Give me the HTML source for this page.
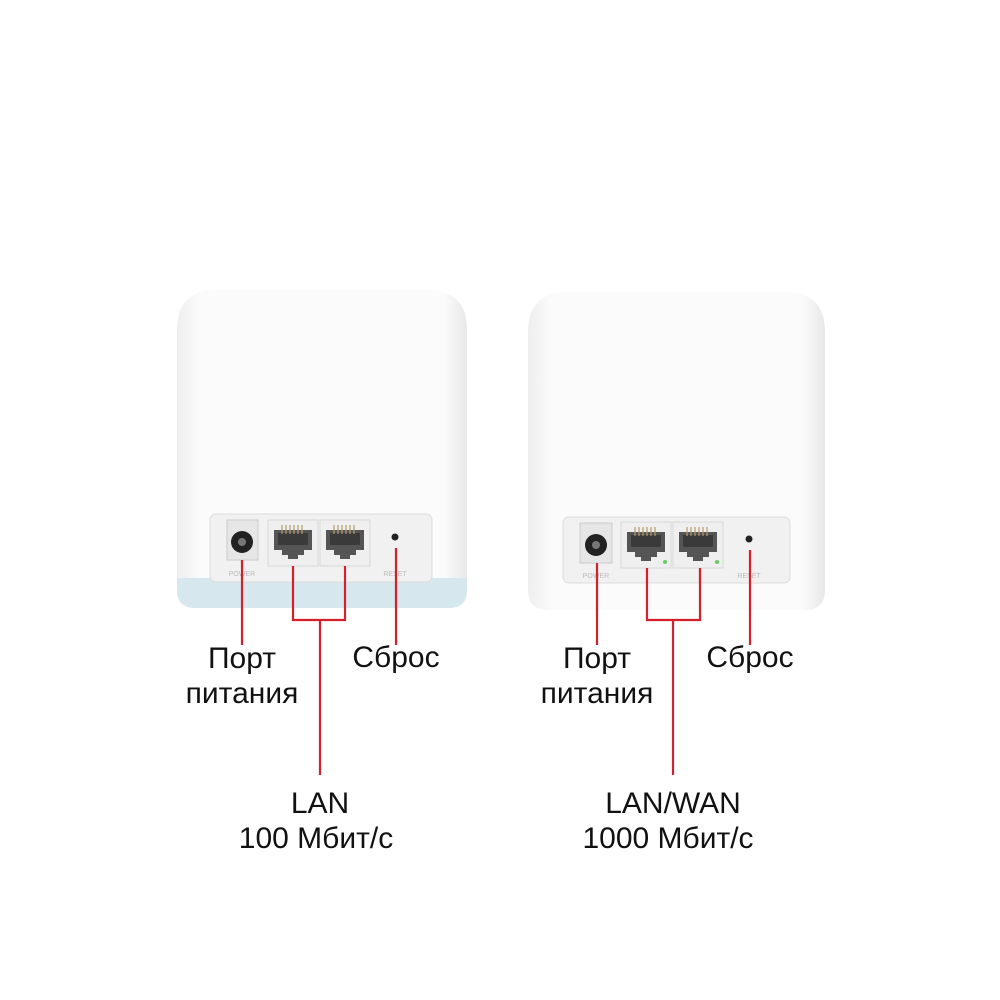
<!DOCTYPE html>
<html><head><meta charset="utf-8"><style>
html,body{margin:0;padding:0;background:#fff;width:1000px;height:1000px;overflow:hidden}
text{font-family:"Liberation Sans",sans-serif;font-size:30px;fill:#111;text-anchor:middle}
.sm{font-size:7px;fill:#bbb}
</style></head><body>
<svg width="1000" height="1000" viewBox="0 0 1000 1000">
<defs>
<linearGradient id="bw" x1="0" x2="1"><stop offset="0" stop-color="#eeeeee"/><stop offset="0.08" stop-color="#fbfbfb"/><stop offset="0.92" stop-color="#fbfbfb"/><stop offset="1" stop-color="#e8e8e8"/></linearGradient>
<g id="port">
 <rect x="0" y="0" width="50" height="46" fill="#efefef" stroke="#d8d8d8"/>
 <path d="M6 10 H44 V30 H36 V35 H30 V39 H20 V35 H14 V30 H6 Z" fill="#555"/>
 <rect x="10" y="13" width="30" height="12" fill="#3a3a3a"/>
 <g stroke="#b59a6a" stroke-width="1.2"><line x1="14" y1="5" x2="14" y2="14"/><line x1="18" y1="5" x2="18" y2="14"/><line x1="22" y1="5" x2="22" y2="14"/><line x1="26" y1="5" x2="26" y2="14"/><line x1="30" y1="5" x2="30" y2="14"/><line x1="34" y1="5" x2="34" y2="14"/></g>
</g>
</defs>
<path d="M177 330 Q177 290 217 290 H427 Q467 290 467 330 V590 Q467 608 449 608 H195 Q177 608 177 590 Z" fill="url(#bw)"/>
<path d="M177 578 H467 V590 Q467 608 449 608 H195 Q177 608 177 590 Z" fill="#d6e8ee"/>
<rect x="210" y="514" width="222" height="68" rx="6" fill="#f1f1f1" stroke="#dcdcdc"/>
<rect x="227" y="520" width="31" height="40" fill="#e6e6e6" stroke="#ccc"/>
<circle cx="242" cy="542" r="11" fill="#222"/><circle cx="242" cy="542" r="4" fill="#777"/>
<use href="#port" x="268" y="520"/><use href="#port" x="320" y="520"/>
<circle cx="395" cy="537" r="3.5" fill="#222"/>
<text class="sm" x="242" y="576">POWER</text><text class="sm" x="395" y="576">RESET</text>
<path d="M528 332 Q528 292 568 292 H785 Q825 292 825 332 V590 Q825 610 805 610 H548 Q528 610 528 590 Z" fill="url(#bw)"/>
<rect x="563" y="517" width="227" height="66" rx="6" fill="#f1f1f1" stroke="#dcdcdc"/>
<rect x="580" y="523" width="32" height="40" fill="#e6e6e6" stroke="#ccc"/>
<circle cx="596" cy="545" r="11" fill="#222"/><circle cx="596" cy="545" r="4" fill="#777"/>
<use href="#port" x="621" y="522"/><use href="#port" x="673" y="522"/>
<circle cx="665" cy="562" r="2" fill="#6c6"/><circle cx="717" cy="562" r="2" fill="#6c6"/>
<circle cx="749" cy="539" r="3.5" fill="#222"/>
<text class="sm" x="596" y="578">POWER</text><text class="sm" x="749" y="578">RESET</text>
<g stroke="#d41f2d" stroke-width="2.2" fill="none">
<path d="M242 560 V645"/><path d="M293 566 V620 H345 V566"/><path d="M320 620 V775"/><path d="M396 548 V645"/>
<path d="M597 563 V645"/><path d="M647 568 V620 H700 V568"/><path d="M673 620 V775"/><path d="M750 550 V645"/>
</g>
<text x="242" y="668">Порт</text><text x="242" y="703">питания</text><text x="396" y="667">Сброс</text>
<text x="320" y="813">LAN</text><text x="316" y="848">100 Мбит/с</text>
<text x="597" y="668">Порт</text><text x="597" y="703">питания</text><text x="750" y="667">Сброс</text>
<text x="673" y="813">LAN/WAN</text><text x="668" y="848">1000 Мбит/с</text>
</svg>
</body></html>
